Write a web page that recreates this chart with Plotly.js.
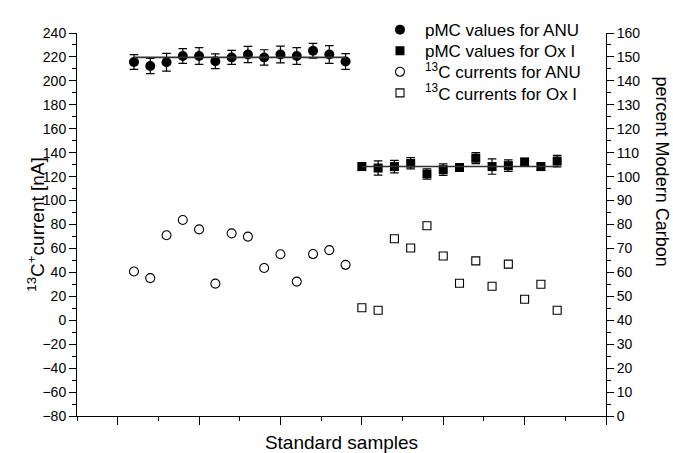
<!DOCTYPE html>
<html>
<head>
<meta charset="utf-8">
<script src="https://cdn.plot.ly/plotly-3.0.1.min.js"></script>
<style>html,body{margin:0;padding:0;background:#fff}#chart{width:673px;height:453px}</style>
</head>
<body>
<div id="chart"></div>
<script>
// Sample positions along the x axis
var samplesANU = [1,2,3,4,5,6,7,8,9,10,11,12,13,14];
var samplesOx  = [15,16,17,18,19,20,21,22,23,24,25,26,27];

// pMC values (right axis, percent Modern Carbon)
var pmcANU    = [147.9,146.2,147.8,150.4,150.4,148.2,149.8,151.0,149.8,151.0,150.4,152.6,151.0,148.1];
var pmcANUerr = [3.1,3.2,3.7,3.1,3.5,3.1,2.9,3.4,3.2,3.5,3.5,3.1,3.7,3.3];
var pmcOx     = [104.2,103.6,104.2,105.6,101.1,102.9,103.8,107.7,104.2,104.6,106.1,104.2,106.5];
var pmcOxErr  = [1.5,3.0,2.6,2.4,2.2,2.4,1.5,2.3,3.2,2.4,1.5,1.5,2.4];

// Mean pMC lines
var meanANU = 149.8;
var meanOx  = 104.2;

// 13C currents (left axis, nA)
var curANU = [40.7,35.2,71.0,83.8,75.9,30.6,72.6,69.9,43.7,55.1,32.3,55.3,58.6,46.3];
var curOx  = [10.5,8.3,68.1,60.4,78.9,53.7,30.9,49.6,28.4,46.9,17.6,30.1,8.3];

var font = 'Liberation Sans, Arial, sans-serif';

var traces = [
  {x: samplesANU, y: pmcANU, yaxis: 'y2', mode: 'markers', type: 'scatter',
   name: 'pMC values for ANU', legend: 'legend',
   marker: {symbol: 'circle', size: 10, color: '#000'},
   error_y: {type: 'data', array: pmcANUerr, visible: true, color: '#000', thickness: 1.2, width: 4.3}},
  {x: samplesOx, y: pmcOx, yaxis: 'y2', mode: 'markers', type: 'scatter',
   name: 'pMC values for Ox I', legend: 'legend2',
   marker: {symbol: 'square', size: 9, color: '#000'},
   error_y: {type: 'data', array: pmcOxErr, visible: true, color: '#000', thickness: 1.2, width: 4.3}},
  {x: samplesANU, y: curANU, mode: 'markers', type: 'scatter',
   name: '<sup>13</sup>C currents for ANU', legend: 'legend3',
   marker: {symbol: 'circle-open', size: 9, color: '#000', line: {width: 1.1}}},
  {x: samplesOx, y: curOx, mode: 'markers', type: 'scatter',
   name: '<sup>13</sup>C currents for Ox I', legend: 'legend4',
   marker: {symbol: 'square-open', size: 8, color: '#000', line: {width: 1.1}}},
  {x: [samplesANU[0], samplesANU[samplesANU.length-1]], y: [meanANU, meanANU], yaxis: 'y2',
   mode: 'lines', type: 'scatter', showlegend: false, hoverinfo: 'skip',
   line: {color: '#333', width: 1.6}},
  {x: [samplesOx[0], samplesOx[samplesOx.length-1]], y: [meanOx, meanOx], yaxis: 'y2',
   mode: 'lines', type: 'scatter', showlegend: false, hoverinfo: 'skip',
   line: {color: '#333', width: 1.6}}
];

function legendAt(yPaper) {
  return {x: 0.5633, y: yPaper, xanchor: 'left', yanchor: 'middle',
          bgcolor: 'rgba(0,0,0,0)', font: {family: font, size: 17, color: '#000'},
          tracegroupgap: 0, itemwidth: 40};
}

var layout = {
  width: 673, height: 453,
  margin: {l: 77, r: 67, t: 22, b: 37, pad: 0},
  paper_bgcolor: '#fff', plot_bgcolor: '#fff',
  font: {family: font, size: 14, color: '#000'},
  showlegend: true,
  legend: legendAt(1.0076),
  legend2: legendAt(0.9525),
  legend3: legendAt(0.8975),
  legend4: legendAt(0.8424),
  xaxis: {range: [-2.5, 30], showgrid: false, zeroline: false, showline: true,
          linecolor: '#000', linewidth: 1, showticklabels: false,
          ticks: 'outside', tick0: 0, dtick: 5, ticklen: 8, tickcolor: '#000',
          minor: {ticks: 'outside', dtick: 2.5, ticklen: 4, tickcolor: '#000'},
          title: {text: 'Standard samples', font: {family: font, size: 19}, standoff: 14}},
  yaxis: {range: [-80, 240], showgrid: false, zeroline: false, showline: true,
          linecolor: '#000', linewidth: 1, ticks: 'outside', tick0: 0, dtick: 20,
          ticklen: 7, tickcolor: '#000',
          minor: {ticks: 'outside', dtick: 10, ticklen: 4, tickcolor: '#000'},
          tickfont: {family: font, size: 14}},
  yaxis2: {range: [0, 160], overlaying: 'y', side: 'right', showgrid: false, zeroline: false,
           showline: true, linecolor: '#000', linewidth: 1, ticks: 'outside', tick0: 0, dtick: 10,
           ticklen: 7, tickcolor: '#000',
           minor: {ticks: 'outside', dtick: 5, ticklen: 4, tickcolor: '#000'},
           tickfont: {family: font, size: 14}},
  annotations: [
    {text: '<sup>13</sup>C<sup>+</sup>current [nA]', xref: 'paper', yref: 'paper',
     x: -0.079, y: 0.5, xanchor: 'center', yanchor: 'middle', textangle: -90,
     showarrow: false, font: {family: font, size: 19, color: '#000'}},
    {text: 'percent Modern Carbon', xref: 'paper', yref: 'paper',
     x: 1.106, y: 0.638, xanchor: 'center', yanchor: 'middle', textangle: 90,
     showarrow: false, font: {family: font, size: 18, color: '#000'}}
  ]
};

Plotly.newPlot('chart', traces, layout, {displayModeBar: false, staticPlot: true});
</script>
</body>
</html>
